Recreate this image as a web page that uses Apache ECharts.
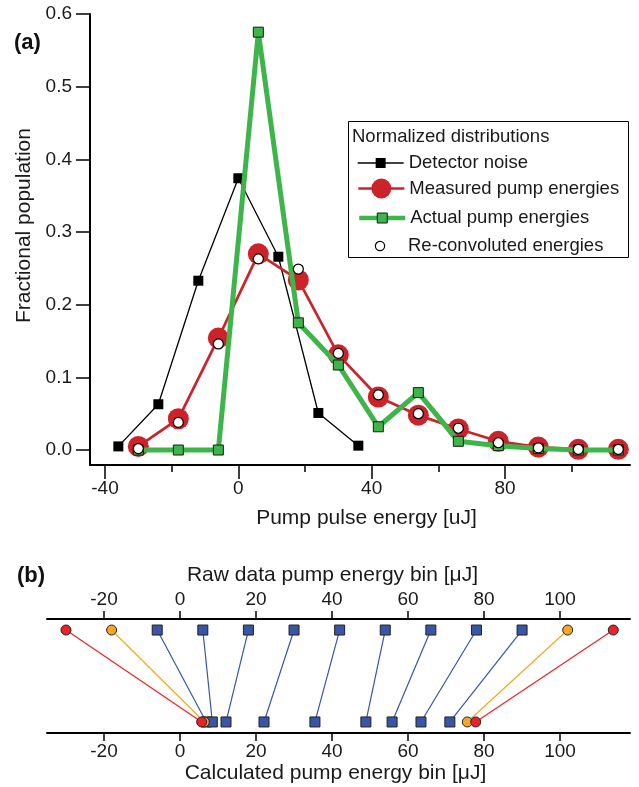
<!DOCTYPE html>
<html><head><meta charset="utf-8">
<script src="https://cdn.jsdelivr.net/npm/echarts@6/dist/echarts.min.js"></script>
<style>html,body{margin:0;padding:0;background:#fff}#c{width:639px;height:787px}</style>
</head><body><div id="c"></div>
<script>
// ---------- data (panel a) ----------
const energyBins   = [-30,-18,-6,6,18,30,42,54,66,78,90,102,114];
const noiseBins    = [-36,-24,-12,0,12,24,36];
const detectorNoise= [0.005,0.063,0.233,0.374,0.266,0.051,0.006];
const measured     = [0.005,0.043,0.154,0.270,0.234,0.131,0.073,0.048,0.029,0.012,0.004,0.001,0.001];
const actual       = [0,0,0,0.575,0.175,0.117,0.032,0.079,0.012,0.006,0.002,0,0];
const reconvoluted = [0.002,0.038,0.146,0.263,0.249,0.133,0.076,0.050,0.030,0.010,0.003,0.001,0.001];
const xTicksA = [-40,0,40,80];
const xMinorA = [-20,20,60,100];
const yTicksA = [0,0.1,0.2,0.3,0.4,0.5,0.6];
// ---------- data (panel b) ----------
const rawBins  = [-30,-18,-6,6,18,30,42,54,66,78,90,102,114];
const calcBins = [5.7,6.4,6.9,8.5,12.1,22.1,35.5,48.9,55.8,63.4,71.0,75.6,77.8];
const binGroup = ['red','orange','blue','blue','blue','blue','blue','blue','blue','blue','blue','orange','red'];
const xTicksB = [-20,0,20,40,60,80,100];

const FONT = "'Liberation Sans', Arial, sans-serif";
const TXT = '#1a1a1a';
const groupStyle = {
  blue:   {symbol:'rect',   color:'#3A55A6', line:'#3A55A6', size:10},
  orange: {symbol:'circle', color:'#F5A623', line:'#F5A623', size:10},
  red:    {symbol:'circle', color:'#E8242A', line:'#E8242A', size:10}
};

const chart = echarts.init(document.getElementById('c'), null, {renderer:'canvas'});

const series = [
  {name:'Detector noise', type:'line', xAxisIndex:0, yAxisIndex:0, z:2,
   data: noiseBins.map((x,i)=>[x, detectorNoise[i]]),
   symbol:'rect', symbolSize:10, itemStyle:{color:'#000'},
   lineStyle:{color:'#000', width:1.3}, emphasis:{disabled:true}},
  {name:'Measured pump energies', type:'line', xAxisIndex:0, yAxisIndex:0, z:3,
   data: energyBins.map((x,i)=>[x, measured[i]]),
   symbol:'circle', symbolSize:21, itemStyle:{color:'#CC2229'},
   lineStyle:{color:'#CC2229', width:2.7}, emphasis:{disabled:true}},
  {name:'Actual pump energies', type:'line', xAxisIndex:0, yAxisIndex:0, z:4,
   data: energyBins.map((x,i)=>[x, actual[i]]),
   symbol:'rect', symbolSize:10, itemStyle:{color:'#3DB54A', borderColor:'#1a1a1a', borderWidth:1},
   lineStyle:{color:'#3DB54A', width:5}, emphasis:{disabled:true}},
  {name:'Re-convoluted energies', type:'line', xAxisIndex:0, yAxisIndex:0, z:6,
   data: energyBins.map((x,i)=>[x, reconvoluted[i]]),
   symbol:'circle', symbolSize:10, itemStyle:{color:'#fff', borderColor:'#000', borderWidth:1.2},
   lineStyle:{width:0, opacity:0}, emphasis:{disabled:true}}
];

// panel b: draw blue first, then orange, then red on top
['blue','orange','red'].forEach(g => {
  rawBins.forEach((r,i) => {
    if (binGroup[i] !== g) return;
    const st = groupStyle[g];
    series.push({type:'line', xAxisIndex:2, yAxisIndex:1,
      data:[[r,1],[calcBins[i],0]],
      symbol:st.symbol, symbolSize:st.size,
      itemStyle:{color:st.color, borderColor:'#222', borderWidth:1},
      lineStyle:{color:st.line, width:1.2}, emphasis:{disabled:true}});
  });
});

const legendDefs = [
  {name:'Detector noise', h:12.5, top:153.5, item:{borderWidth:0}, line:{width:1.3}},
  {name:'Measured pump energies', h:25, top:178.5, item:{borderWidth:0}, line:{width:2.7}},
  {name:'Actual pump energies', h:12.5, top:208.5, item:{borderWidth:1, borderColor:'#1a1a1a'}, line:{width:4.5}},
  {name:'Re-convoluted energies', h:11.5, top:236.5, item:{borderWidth:1.2, borderColor:'#000'}, line:{width:0, opacity:0}}
];

const option = {
  animation:false,
  backgroundColor:'#fff',
  title:{text:'Normalized distributions', left:352, top:127.5, padding:0,
    textStyle:{fontFamily:FONT, fontSize:18.5, fontWeight:'normal', color:TXT}},
  legend: legendDefs.map(d => ({
    data:[d.name], left:357, top:d.top, padding:0, itemWidth:46, itemHeight:d.h,
    selectedMode:false, itemStyle:d.item, lineStyle:d.line,
    textStyle:{fontFamily:FONT, fontSize:18.5, color:TXT}
  })),
  grid:[
    {left:90, top:14, width:540, height:451},
    {left:47, top:619, width:583, height:114}
  ],
  xAxis:[
    {type:'value', gridIndex:0, min:-44.5, max:117.5, position:'bottom',
     name:'Pump pulse energy [uJ]', nameLocation:'middle', nameGap:43,
     nameTextStyle:{fontFamily:FONT, fontSize:21, color:TXT, padding:[0,0,0,13]},
     axisLine:{show:true, onZero:false, lineStyle:{color:'#000', width:2}},
     axisTick:{show:true, length:14, customValues:xTicksA, lineStyle:{color:'#000', width:1.5}},
     axisLabel:{show:true, margin:14, customValues:xTicksA, fontFamily:FONT, fontSize:19, color:TXT,
       formatter:v=>String(v)},
     splitLine:{show:false}},
    // minor ticks: a label-less companion axis moved onto the bottom edge of the plot
    {type:'value', gridIndex:0, min:-44.5, max:117.5, position:'top', offset:-451,
     axisLine:{show:false, onZero:false},
     axisTick:{show:true, inside:true, length:7, customValues:xMinorA, lineStyle:{color:'#000', width:1.5}},
     axisLabel:{show:false}, splitLine:{show:false}},
    {type:'value', gridIndex:1, min:-35, max:118.4, position:'top',
     name:'Raw data pump energy bin [μJ]', nameLocation:'middle', nameGap:33,
     nameTextStyle:{fontFamily:FONT, fontSize:21, color:TXT, padding:[0,12,0,0]},
     axisLine:{show:true, onZero:false, lineStyle:{color:'#000', width:2}},
     axisTick:{show:true, length:8, customValues:xTicksB, lineStyle:{color:'#000', width:1.5}},
     axisLabel:{show:true, margin:10, customValues:xTicksB, fontFamily:FONT, fontSize:19, color:TXT,
       formatter:v=>String(v)},
     splitLine:{show:false}},
    {type:'value', gridIndex:1, min:-35, max:118.4, position:'bottom',
     name:'Calculated pump energy bin [μJ]', nameLocation:'middle', nameGap:29.5,
     nameTextStyle:{fontFamily:FONT, fontSize:21, color:TXT, padding:[0,6,0,0]},
     axisLine:{show:true, onZero:false, lineStyle:{color:'#000', width:2}},
     axisTick:{show:true, length:8, customValues:xTicksB, lineStyle:{color:'#000', width:1.5}},
     axisLabel:{show:true, margin:9, customValues:xTicksB, fontFamily:FONT, fontSize:19, color:TXT,
       formatter:v=>String(v)},
     splitLine:{show:false}}
  ],
  yAxis:[
    {type:'value', gridIndex:0, min:-0.0206, max:0.6,
     name:'Fractional population', nameLocation:'middle', nameGap:52,
     nameTextStyle:{fontFamily:FONT, fontSize:21, color:TXT, padding:[0,0,0,28]},
     axisLine:{show:true, onZero:false, lineStyle:{color:'#000', width:2}},
     axisTick:{show:true, length:14, customValues:yTicksA, lineStyle:{color:'#000', width:1.5}},
     axisLabel:{show:true, margin:18, customValues:yTicksA, fontFamily:FONT, fontSize:19, color:TXT,
       formatter:v=>Number(v).toFixed(1)},
     splitLine:{show:false}},
    {type:'value', gridIndex:1, min:-0.12, max:1.12, show:false, splitLine:{show:false}}
  ],
  graphic:[
    {type:'rect', shape:{x:348.5, y:121.5, width:280, height:136}, style:{fill:'none', stroke:'#000', lineWidth:1}},
    {type:'text', x:14, y:43, style:{text:'(a)', fontFamily:FONT, fontSize:22, fontWeight:'bold', fill:'#111', verticalAlign:'middle'}},
    {type:'text', x:17, y:576, style:{text:'(b)', fontFamily:FONT, fontSize:22, fontWeight:'bold', fill:'#111', verticalAlign:'middle'}}
  ],
  series: series
};
chart.setOption(option);
</script>
</body></html>
